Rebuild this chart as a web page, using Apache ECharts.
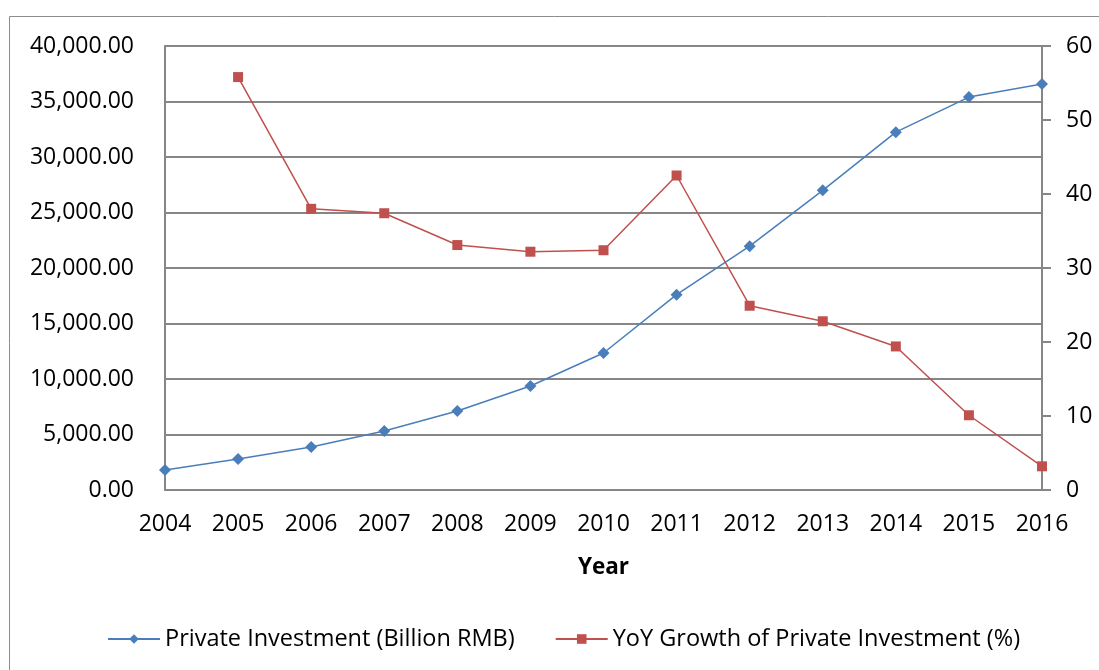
<!DOCTYPE html>
<html>
<head>
<meta charset="utf-8">
<script src="https://cdn.jsdelivr.net/npm/echarts@6/dist/echarts.min.js"></script>
<style>
  html, body { margin: 0; padding: 0; background: #fff; }
  #main { width: 1099px; height: 670px; }
</style>
</head>
<body>
<div id="main"></div>
<script>
// 数据
var years = ['2004', '2005', '2006', '2007', '2008', '2009', '2010', '2011', '2012', '2013', '2014', '2015', '2016'];
var investment = [1800, 2790, 3880, 5320, 7120, 9370, 12340, 17600, 21970, 27000, 32240, 35400, 36580];
var yoyGrowth = [null, 55.8, 38.0, 37.4, 33.1, 32.2, 32.4, 42.5, 24.9, 22.8, 19.4, 10.1, 3.2];
var leftTicks = [0, 5000, 10000, 15000, 20000, 25000, 30000, 35000, 40000];
var rightTicks = [0, 10, 20, 30, 40, 50, 60];

var FONT = '"Open Sans", sans-serif';
var GRID_COLOR = '#868686';

// 千分位 + 两位小数
function fmtMoney(v) {
    var s = v.toFixed(2).split('.');
    return s[0].replace(/\B(?=(\d{3})+(?!\d))/g, ',') + '.' + s[1];
}

var myChart = echarts.init(document.getElementById('main'));
var option = {
    backgroundColor: '#fff',
    animation: false,
    textStyle: { fontFamily: FONT },
    graphic: [{
        type: 'rect',
        shape: { x: 9.5, y: 16.5, width: 1200, height: 700 },
        style: { fill: 'none', stroke: '#8c8c8c', lineWidth: 1 },
        silent: true
    }],
    grid: { left: 165, right: 57, top: 46, bottom: 180 },
    legend: {
        left: 102,
        top: 622,
        itemWidth: 52,
        itemHeight: 12,
        itemGap: 40,
        textStyle: { fontFamily: FONT, fontSize: 23.5, color: '#000' },
        data: ['Private Investment (Billion RMB)', 'YoY Growth of Private Investment (%)']
    },
    xAxis: {
        type: 'category',
        data: years,
        boundaryGap: false,
        name: 'Year',
        nameLocation: 'middle',
        nameGap: 66,
        nameTextStyle: { fontFamily: FONT, fontSize: 22.5, fontWeight: 'bold', color: '#000' },
        axisLine: { lineStyle: { color: GRID_COLOR, width: 2 } },
        axisTick: { show: false },
        axisLabel: { fontFamily: FONT, fontSize: 23, color: '#000', margin: 23 },
        splitLine: { show: false }
    },
    yAxis: [{
        type: 'value',
        min: leftTicks[0],
        max: leftTicks[leftTicks.length - 1],
        interval: leftTicks[1] - leftTicks[0],
        axisLine: { show: true, lineStyle: { color: GRID_COLOR, width: 2 } },
        axisTick: { show: false },
        axisLabel: { fontFamily: FONT, fontSize: 23, color: '#000', margin: 31, formatter: fmtMoney },
        splitLine: { show: true, lineStyle: { color: GRID_COLOR, width: 2 } }
    }, {
        type: 'value',
        min: rightTicks[0],
        max: rightTicks[rightTicks.length - 1],
        interval: rightTicks[1] - rightTicks[0],
        position: 'right',
        axisLine: { show: true, lineStyle: { color: GRID_COLOR, width: 2 } },
        axisTick: { show: true, inside: false, length: 9, lineStyle: { color: GRID_COLOR, width: 2 } },
        axisLabel: { fontFamily: FONT, fontSize: 23, color: '#000', margin: 24 },
        splitLine: { show: false }
    }],
    series: [{
        name: 'Private Investment (Billion RMB)',
        type: 'line',
        yAxisIndex: 0,
        data: investment,
        symbol: 'diamond',
        symbolSize: 12,
        showAllSymbol: true,
        itemStyle: { color: '#4A7EBB' },
        lineStyle: { color: '#4A7EBB', width: 1.5 }
    }, {
        name: 'YoY Growth of Private Investment (%)',
        type: 'line',
        yAxisIndex: 1,
        data: yoyGrowth,
        symbol: 'rect',
        symbolSize: 10,
        showAllSymbol: true,
        itemStyle: { color: '#C0504D' },
        lineStyle: { color: '#C0504D', width: 1.5 }
    }]
};
myChart.setOption(option);
</script>
</body>
</html>
